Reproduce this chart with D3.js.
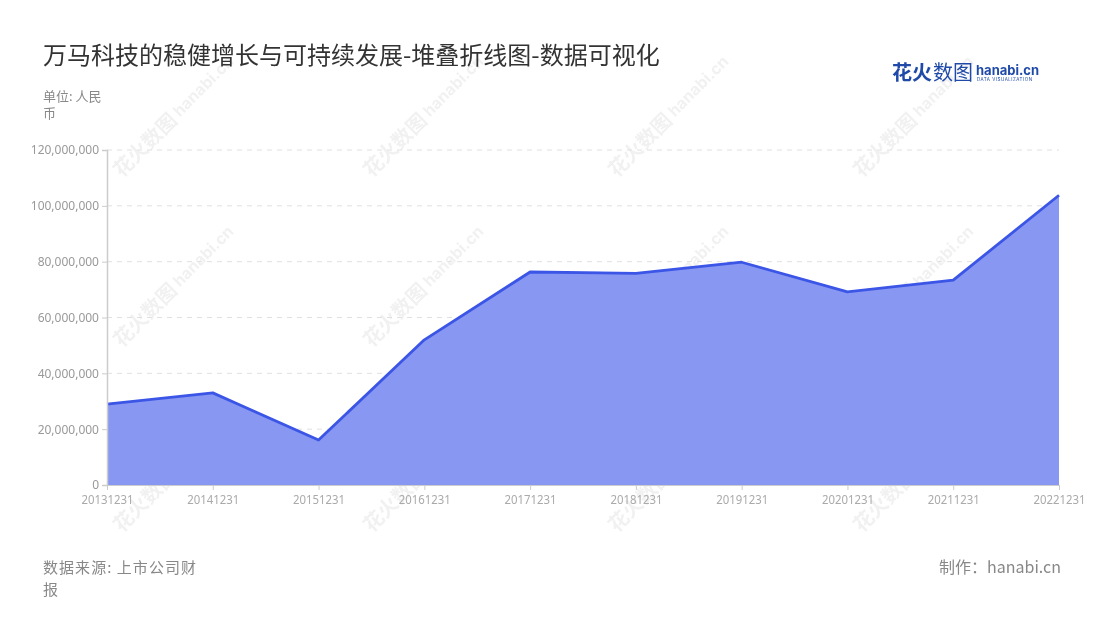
<!DOCTYPE html>
<html><head><meta charset="utf-8">
<script src="https://cdn.jsdelivr.net/npm/d3@7"></script>
<style>
body{margin:0;background:#fff;font-family:"Noto Sans CJK SC","Noto Sans",sans-serif;}
</style></head>
<body><svg id="c" width="1100" height="620"></svg>
<script>
const categories = ["20131231","20141231","20151231","20161231","20171231","20181231","20191231","20201231","20211231","20221231"];
const values = [29000000,33000000,16100000,52000000,76300000,75800000,79800000,69200000,73400000,103800000];
const yTicks = [0,20000000,40000000,60000000,80000000,100000000,120000000];

const svg = d3.select("#c");
const m={l:107,r:1059,t:150,b:485};

// watermarks
const wm = svg.append("g").attr("opacity",0.07);
[150,400,645,890].forEach(cx=>{
  [150,320,505].forEach(cy=>{
    const g = wm.append("g").attr("transform",`translate(${cx},${cy}) rotate(-45)`);
    g.append("text").attr("x",-40).attr("y",0).attr("font-size",20).attr("font-weight","bold").attr("fill","#333").text("花火数图");
    g.append("text").attr("x",44).attr("y",-2).attr("font-size",16).attr("font-weight","bold").attr("fill","#333").attr("font-family","Inter,sans-serif").text("hanabi.cn");
  });
});

const x = d3.scalePoint().domain(categories).range([m.l,m.r]);
const y = d3.scaleLinear().domain([0,120000000]).range([m.b,m.t]);

// grid
svg.append("g").selectAll("line").data(yTicks.slice(1)).join("line")
  .attr("x1",m.l).attr("x2",m.r).attr("y1",d=>y(d)).attr("y2",d=>y(d))
  .attr("stroke","#e0e0e0").attr("stroke-dasharray","5,5");

// area
svg.append("path").datum(values)
  .attr("d",d3.area().x((d,i)=>x(categories[i])).y0(y(0)).y1(d=>y(d)))
  .attr("fill","#8797f2");
svg.append("path").datum(values)
  .attr("d",d3.line().x((d,i)=>x(categories[i])).y(d=>y(d)))
  .attr("fill","none").attr("stroke","#3b55e6").attr("stroke-width",2.8).attr("stroke-linejoin","round");

// y axis
const ya = svg.append("g").attr("transform",`translate(${m.l},0)`)
  .call(d3.axisLeft(y).tickValues(yTicks).tickSize(5).tickPadding(3).tickFormat(d3.format(",")));
ya.select(".domain").attr("stroke","#ccc").attr("stroke-width",1.5);
ya.selectAll(".tick line").attr("stroke","#ccc");
ya.selectAll("text").attr("fill","#999").attr("font-size",12).attr("font-family","'Noto Sans',sans-serif");

// x axis
const xa = svg.append("g").attr("transform",`translate(0,${m.b})`)
  .call(d3.axisBottom(x).tickSize(5).tickPadding(5));
xa.select(".domain").attr("stroke","#ccc");
xa.selectAll(".tick line").attr("stroke","#ccc");
xa.selectAll("text").attr("fill","#aaa").attr("font-size",12).attr("font-family","'Noto Sans',sans-serif").attr("textLength",52).attr("lengthAdjust","spacingAndGlyphs");

// title
svg.append("text").attr("x",43).attr("y",64).attr("font-size",24).attr("fill","#333").text("万马科技的稳健增长与可持续发展-堆叠折线图-数据可视化");
svg.append("text").attr("x",43).attr("y",101).attr("font-size",13).attr("fill","#888").text("单位: 人民");
svg.append("text").attr("x",43).attr("y",118).attr("font-size",13).attr("fill","#888").text("币");

// footer
svg.append("text").attr("x",43).attr("y",573).attr("font-size",15).attr("fill","#888").attr("textLength",153).attr("lengthAdjust","spacing").text("数据来源: 上市公司财");
svg.append("text").attr("x",43).attr("y",595).attr("font-size",15).attr("fill","#888").text("报");
svg.append("text").attr("x",1061).attr("y",573).attr("text-anchor","end").attr("font-size",16).attr("fill","#888").text("制作：hanabi.cn");

// logo
svg.append("text").attr("x",892).attr("y",80).attr("font-size",20).attr("font-weight","bold").attr("fill","#1f4aa8").text("花火");
svg.append("text").attr("x",933).attr("y",80).attr("font-size",20).attr("fill","#1f4aa8").text("数图");
svg.append("text").attr("x",976).attr("y",75).attr("font-size",13).attr("font-weight","bold").attr("fill","#1f4aa8").attr("font-family","Inter,sans-serif").text("hanabi.cn");
svg.append("text").attr("x",977).attr("y",81).attr("font-size",4.5).attr("fill","#1f4aa8").attr("font-family","Inter,sans-serif").attr("letter-spacing",0.5).text("DATA VISUALIZATION");
</script></body></html>
